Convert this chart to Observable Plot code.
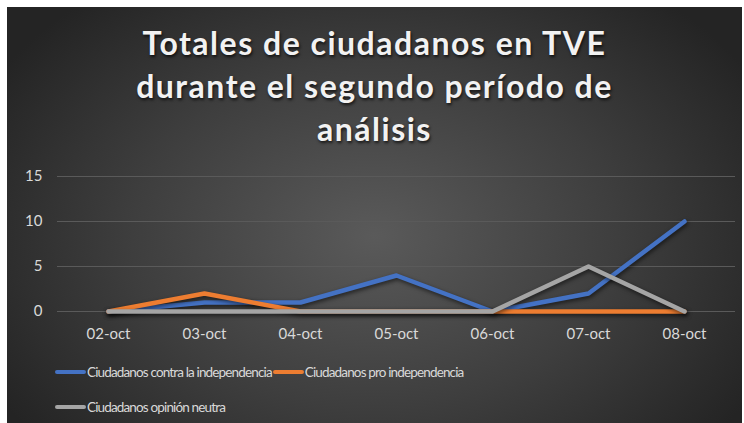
<!DOCTYPE html>
<html>
<head>
<meta charset="utf-8">
<script src="https://cdn.jsdelivr.net/npm/d3@7"></script>
<script src="https://cdn.jsdelivr.net/npm/@observablehq/plot@0.6"></script>
<style>
  html, body { margin: 0; padding: 0; background: #ffffff; }
  #card {
    position: absolute; left: 7px; top: 7px; width: 735px; height: 416px;
    background: radial-gradient(ellipse 60% 75% at 50% 55%, #5a5a5a 0%, #3e3e3e 55%, #242424 100%);
    overflow: hidden;
    font-family: Lato, "Open Sans", sans-serif;
  }
  #title {
    position: absolute; left: 0; top: 14px; width: 735px; text-align: center;
    color: #f2f2f2; font-weight: bold; font-size: 32px; line-height: 43px; letter-spacing: 1.5px;
    text-shadow: 1px 2px 3px rgba(0,0,0,0.7);
  }
  #plot { position: absolute; left: 0; top: 153px; }
  .leg { position: absolute; display: flex; align-items: center; color: #d9d9d9; font-size: 13.5px; letter-spacing: -0.85px; height: 20px; }
  .leg .sw { width: 31px; height: 4px; border-radius: 2px; margin-right: 1px; }
</style>
</head>
<body>
<div id="card">
  <div id="title">Totales de ciudadanos en TVE<br>durante el segundo período de<br>análisis</div>
  <div id="plot"></div>
  <div class="leg" style="left:48px; top:355px;"><span class="sw" style="background:#4472C4"></span>Ciudadanos contra la independencia<span class="sw" style="background:#ED7D31; margin-left:1px"></span>Ciudadanos pro independencia</div>
  <div class="leg" style="left:48px; top:390px;"><span class="sw" style="background:#A5A5A5"></span>Ciudadanos opinión neutra</div>
</div>
<script>
const dates = ["02-oct", "03-oct", "04-oct", "05-oct", "06-oct", "07-oct", "08-oct"];
const contra = [0, 1, 1, 4, 0, 2, 10];
const pro = [0, 2, 0, 0, 0, 0, 0];
const neutra = [0, 0, 0, 0, 0, 5, 0];
const seriesNames = ["Ciudadanos contra la independencia", "Ciudadanos pro independencia", "Ciudadanos opinión neutra"];
const seriesColors = ["#4472C4", "#ED7D31", "#A5A5A5"];
const yTicks = [0, 5, 10, 15];

const rows = [];
[contra, pro, neutra].forEach((vals, s) => {
  vals.forEach((v, i) => rows.push({date: dates[i], value: v, series: seriesNames[s]}));
});

const chart = Plot.plot({
  width: 735,
  height: 185,
  marginLeft: 50,
  marginRight: 7,
  marginTop: 16,
  marginBottom: 34,
  style: {background: "transparent", color: "#d9d9d9", fontSize: "15px", fontFamily: "Lato, \"Open Sans\", sans-serif"},
  x: {type: "point", domain: dates, padding: 0.5, label: null},
  y: {domain: [0, 15], label: null},
  color: {domain: seriesNames, range: seriesColors},
  marks: [
    Plot.ruleY(yTicks, {stroke: "#5a5a5a", strokeWidth: 1}),
    Plot.axisY({ticks: yTicks, tickSize: 0, tickPadding: 15, label: null, fill: "#d9d9d9"}),
    Plot.axisX({tickSize: 0, tickPadding: 17, label: null, fill: "#d9d9d9"}),
    Plot.line(rows, {x: "date", y: "value", z: "series", stroke: "series", strokeWidth: 4.5, strokeLinejoin: "round", strokeLinecap: "round"})
  ]
});
document.getElementById("plot").appendChild(chart);
d3.select(chart).selectAll("g[aria-label='line'] path").style("filter", "drop-shadow(1px 2px 2px rgba(0,0,0,0.6))");
</script>
</body>
</html>
